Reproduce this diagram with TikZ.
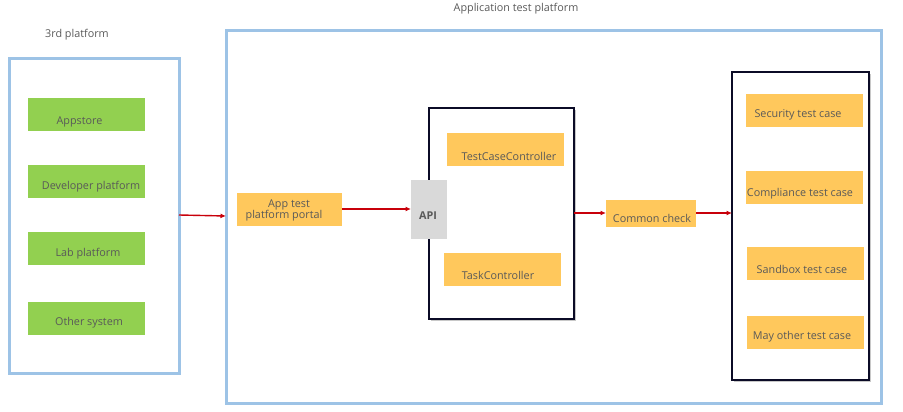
\documentclass[tikz,border=0pt]{standalone}
\usepackage{fontspec}
\setmainfont{Open Sans}
\usetikzlibrary{arrows.meta,shadows}
\definecolor{txtgray}{HTML}{595959}
\definecolor{bluebd}{HTML}{9DC3E6}
\definecolor{navybd}{HTML}{0B0B26}
\definecolor{greenf}{HTML}{92D050}
\definecolor{orangef}{HTML}{FFC85C}
\definecolor{apigray}{HTML}{D9D9D9}
\definecolor{arrred}{HTML}{C8000A}
\tikzset{
  txt/.style={text=txtgray, font=\fontsize{10.8}{12}\selectfont, inner sep=0pt, anchor=center, yshift=-1.5pt},
  bluebox/.style={draw=bluebd, line width=3pt, fill=white, drop shadow={shadow xshift=2pt, shadow yshift=-2pt, fill=black!30, opacity=0.7}},
  navybox/.style={draw=navybd, line width=2pt, fill=white, drop shadow={shadow xshift=2pt, shadow yshift=-2pt, fill=black!30, opacity=0.7}},
  gbox/.style={fill=greenf, draw=none},
  obox/.style={fill=orangef, draw=none},
  abox/.style={fill=apigray, draw=none},
  redarr/.style={draw=arrred, line width=1.4pt, -{Latex[length=5.5pt,width=5pt]}}
}
\begin{document}
\begin{tikzpicture}[x=1pt,y=-1pt]
\useasboundingbox (0,0) rectangle (903,412);
% outer containers
\draw[bluebox] (9,59) rectangle (179,373);
\coordinate (leftR) at (179,215);
\draw[bluebox] (226,31) rectangle (881,403);
\coordinate (bigL) at (226,216);
\draw[navybox] (429,108) rectangle (574,319);
\coordinate (midR) at (574,213);
\draw[navybox] (732,72) rectangle (869,380);
\coordinate (rightL) at (732,213);
% titles
\node[txt] (t3rd) at (77,33) {3rd platform};
\node[txt] (tapp) at (516,7) {Application test platform};
% green boxes
\fill[gbox] (28,98) rectangle (145,131);
\node[txt] (appstore) at (79.5,120) {Appstore};
\fill[gbox] (28,165) rectangle (145,198);
\node[txt] (devp) at (91,185) {Developer platform};
\fill[gbox] (28,232) rectangle (145,265);
\node[txt] (labp) at (88,252) {Lab platform};
\fill[gbox] (28,302) rectangle (145,335);
\node[txt] (other) at (89,321) {Other system};
% portal
\fill[obox] (237,193) rectangle (342,226);
\coordinate (portalR) at (342,209);
\node[txt] (port1) at (289,203) {App test};
\node[txt] (port2) at (284,214.5) {platform portal};
% API
\fill[abox] (411,180) rectangle (447,239);
\coordinate (apiL) at (411,209);
\node[txt, font=\bfseries\fontsize{10.8}{12}\selectfont] (api) at (428,214) {API};
% controllers
\fill[obox] (447,133) rectangle (564,166);
\node[txt] (tcc) at (509,155) {TestCaseController};
\fill[obox] (444,253) rectangle (561,286);
\node[txt] (tkc) at (498,274) {TaskController};
% common check
\fill[obox] (606,200) rectangle (696,227);
\coordinate (ccL) at (606,213);
\coordinate (ccR) at (696,213);
\node[txt] (cc) at (652,217) {Common check};
% test cases
\fill[obox] (746,94) rectangle (863,127);
\node[txt] (sec) at (798,113) {Security test case};
\fill[obox] (746,171) rectangle (863,204);
\node[txt] (comp) at (800,192) {Compliance test case};
\fill[obox] (747,247) rectangle (864,280);
\node[txt] (sand) at (802,268) {Sandbox test case};
\fill[obox] (747,316) rectangle (864,349);
\node[txt] (may) at (802,335) {May other test case};
% arrows
\draw[redarr] (leftR) -- (bigL);
\draw[redarr] (portalR) -- (apiL);
\draw[redarr] (midR) -- (ccL);
\draw[redarr] (ccR) -- (rightL);
\end{tikzpicture}
\end{document}
